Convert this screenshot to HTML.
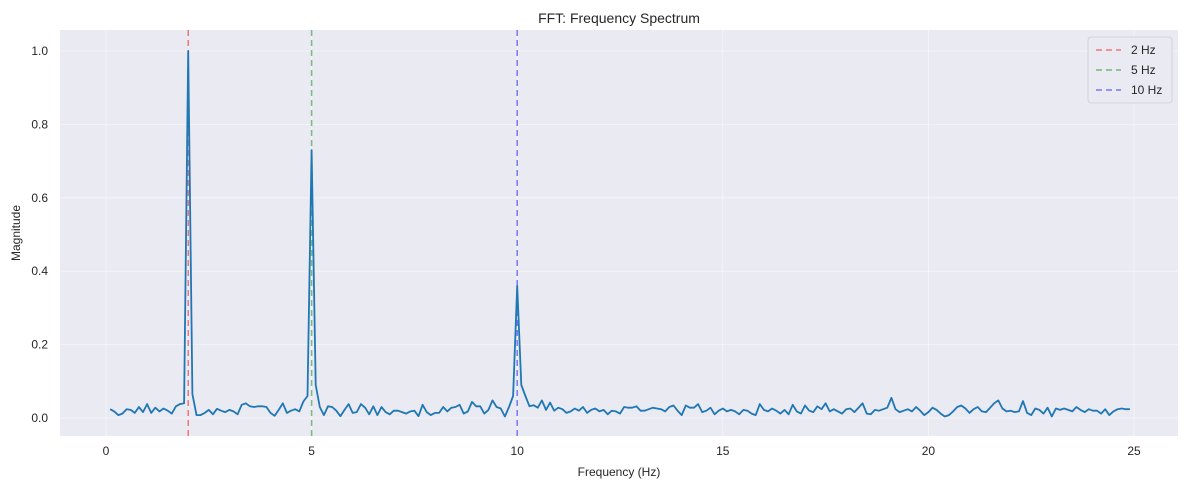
<!DOCTYPE html>
<html><head><meta charset="utf-8"><style>
body{margin:0;background:#fff;}
svg text{font-family:"Liberation Sans",Arial,sans-serif;fill:#262626;}
</style></head><body>
<svg id="chart" width="1189" height="490" xmlns="http://www.w3.org/2000/svg">
<rect x="60" y="30" width="1118" height="406" fill="#eaeaf2"/>
<g id="grid"></g>
<g id="vlines"></g>
<g id="series"></g>
<g id="ticks"></g>
<text x="619" y="23" font-size="14" text-anchor="middle">FFT: Frequency Spectrum</text>
<text x="619" y="476" font-size="12" text-anchor="middle">Frequency (Hz)</text>
<text x="20" y="233" font-size="12" text-anchor="middle" transform="rotate(-90 20 233)">Magnitude</text>
<g>
<rect x="1088" y="37" width="84" height="66" rx="3" fill="#eaeaf2" stroke="#cccccc" stroke-width="0.8" opacity="0.9"/>
<line x1="1096" y1="50" x2="1121" y2="50" stroke="#ff0000" stroke-opacity="0.5" stroke-width="1.5" stroke-dasharray="6,4"/>
<text x="1131" y="54" font-size="12">2 Hz</text>
<line x1="1096" y1="70" x2="1121" y2="70" stroke="#008000" stroke-opacity="0.5" stroke-width="1.5" stroke-dasharray="6,4"/>
<text x="1131" y="74" font-size="12">5 Hz</text>
<line x1="1096" y1="90" x2="1121" y2="90" stroke="#0000ff" stroke-opacity="0.5" stroke-width="1.5" stroke-dasharray="6,4"/>
<text x="1131" y="94" font-size="12">10 Hz</text>
</g>
</svg>
<script>
const xTicks=[0,5,10,15,20,25];
const yTicks=[0.0,0.2,0.4,0.6,0.8,1.0];
const yTickLabels=["0.0","0.2","0.4","0.6","0.8","1.0"];
const markerFreqs=[2,5,10];
const markerColors=["#ff0000","#008000","#0000ff"];
const freqStep=0.1;
const magnitudes=[
.024,.018,.008,.012,.024,.022,.014,.03,.016,.038,
.014,.028,.018,.026,.02,.012,.032,.038,.04,1.0,
.065,.008,.008,.014,.022,.01,.025,.02,.016,.022,
.018,.01,.036,.04,.032,.03,.032,.032,.03,.014,
.006,.022,.04,.014,.02,.024,.018,.045,.06,.73,
.09,.03,.008,.032,.03,.02,.005,.022,.038,.014,
.016,.038,.028,.01,.032,.008,.03,.016,.01,.02,
.02,.016,.012,.018,.02,.005,.036,.016,.008,.014,
.014,.03,.018,.028,.03,.036,.012,.018,.044,.032,
.032,.012,.022,.048,.03,.026,.004,.03,.06,.36,
.09,.06,.032,.035,.028,.048,.022,.042,.02,.028,
.024,.014,.018,.026,.02,.03,.014,.022,.026,.018,
.022,.01,.02,.018,.012,.03,.028,.028,.032,.02,
.02,.024,.028,.026,.024,.018,.03,.034,.02,.008,
.034,.028,.028,.038,.016,.02,.028,.01,.02,.026,
.018,.022,.018,.01,.022,.02,.012,.008,.038,.022,
.018,.026,.02,.012,.022,.01,.036,.018,.012,.034,
.02,.016,.032,.024,.04,.018,.024,.018,.012,.024,
.026,.016,.028,.04,.012,.01,.022,.02,.024,.028,
.055,.024,.016,.02,.024,.018,.03,.02,.008,.016,
.028,.022,.012,.004,.008,.018,.03,.034,.026,.014,
.024,.03,.018,.016,.028,.04,.048,.026,.018,.02,
.016,.018,.046,.014,.008,.026,.022,.012,.028,.004,
.026,.022,.026,.022,.018,.03,.022,.016,.024,.02,
.02,.012,.024,.008,.018,.024,.026,.024,.024];
const NS="http://www.w3.org/2000/svg";
const X=v=>106+v*41.12;
const Y=v=>418-v*367;
function mk(t,a,p){const e=document.createElementNS(NS,t);for(const k in a)e.setAttribute(k,a[k]);document.getElementById(p).appendChild(e);return e;}
xTicks.forEach(t=>{
 const l=mk('line',{x1:X(t),x2:X(t),y1:30,y2:436,stroke:'#fff','stroke-opacity':0.55,'stroke-width':0.8},'grid');
 
 
 const tx=mk('text',{x:X(t),y:455,'font-size':12,'text-anchor':'middle'},'ticks');
 
 
 tx.textContent=t;
});
yTicks.forEach((t,i)=>{
 const l=mk('line',{x1:60,x2:1178,y1:Y(t),y2:Y(t),stroke:'#fff','stroke-opacity':0.55,'stroke-width':0.8},'grid');
 
 
 const tx=mk('text',{x:48,y:Y(t)+4,'font-size':12,'text-anchor':'end'},'ticks');
 
 
 tx.textContent=yTickLabels[i];
});
markerFreqs.forEach((f,i)=>{
 const l=mk('line',{x1:X(f),x2:X(f),y1:30,y2:436,stroke:markerColors[i],'stroke-opacity':0.5,'stroke-width':1.5,'stroke-dasharray':'6,4'},'vlines');
 
 
});
const pts=magnitudes.map((m,i)=>X((i+1)*freqStep).toFixed(1)+','+Y(m).toFixed(1)).join(' ');
const pl=mk('polyline',{points:pts,fill:'none',stroke:'#1f77b4','stroke-width':1.8,'stroke-linejoin':'round'},'series');


</script>
</body></html>
